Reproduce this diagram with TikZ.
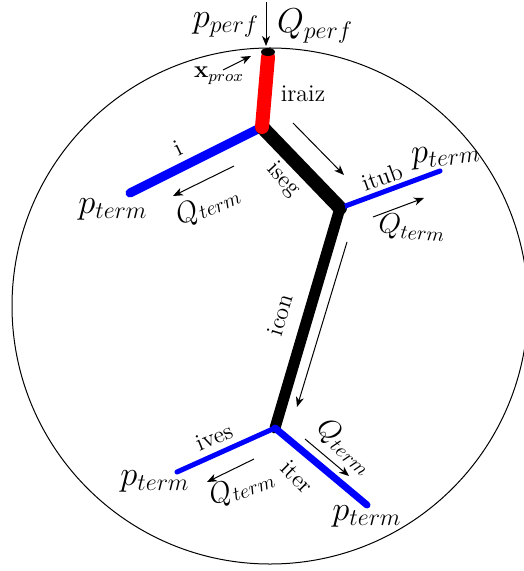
\documentclass[tikz,border=0pt]{standalone}
\usepackage{amsmath,amssymb}
\usepackage{tikz}
\usetikzlibrary{arrows.meta,positioning,calc}

\tikzset{
  seg/.style={line cap=round},
  flow/.style={-{Stealth[length=5pt,width=4pt,inset=1.5pt]}, line width=0.5pt},
  lbl/.style={font=\large, inner sep=1pt},
  big/.style={font=\Large, inner sep=1pt},
  huge/.style={font=\LARGE, inner sep=1pt}
}

\begin{document}
\begin{tikzpicture}[x=0.5pt,y=-0.5pt]
    \useasboundingbox (0,0) rectangle (523,571);
    % Domain
    \draw[line width=0.5pt] (270,306) circle (129pt);
    % Nodes of the tree
    \coordinate (top) at (268,52);
    \coordinate (root) at (262,127);
    \coordinate (iend) at (130,193);
    \coordinate (bif) at (340,208);
    \coordinate (tubend) at (440,171);
    \coordinate (conend) at (275,428);
    \coordinate (vesend) at (177,472);
    \coordinate (terend) at (367,505);
    % Segments
    \draw[seg, blue, line width=4.5pt] (root) -- (iend);
    \draw[seg, line width=7pt] (root) -- (bif);
    \draw[seg, blue, line width=2.5pt] (bif) -- (tubend);
    \draw[seg, line width=5.5pt] (bif) -- (conend);
    \draw[seg, blue, line width=2.5pt] (conend) -- (vesend);
    \draw[seg, blue, line width=3.5pt] (conend) -- (terend);
    \draw[seg, red, line width=7pt] ($(top)+(0,5)$) -- (root);
    \fill (top) ellipse (3.5pt and 2pt);

    % Inflow
    \coordinate (inA) at (266,2);
    \coordinate (inB) at (266,46);
    \draw[flow] (inA) -- (inB);
    \node[huge] (pperf) at (226,25) {$p_{perf}$};
    \node[huge] (qperf) at (315,26) {$Q_{perf}$};
    \coordinate (xA) at (223,70);
    \coordinate (xB) at (251,56);
    \draw[flow] (xA) -- (xB);
    \node[lbl] (xprox) at (219,76) {$\mathbf{x}_{prox}$};

    % Flow arrows
    \coordinate (sA) at (293,123);
    \coordinate (sB) at (344,175);
    \draw[flow] (sA) -- (sB);
    \coordinate (iA) at (234,166);
    \coordinate (iB) at (173,196);
    \draw[flow] (iA) -- (iB);
    \coordinate (tA) at (373,217);
    \coordinate (tB) at (424,198);
    \draw[flow] (tA) -- (tB);
    \coordinate (cA) at (347,242);
    \coordinate (cB) at (297,407);
    \draw[flow] (cA) -- (cB);
    \coordinate (vA) at (254,459);
    \coordinate (vB) at (207,482);
    \draw[flow] (vA) -- (vB);
    \coordinate (eA) at (305,439);
    \coordinate (eB) at (349,476);
    \draw[flow] (eA) -- (eB);

    % Segment names
    \node[lbl] (iraiz) at (303,94) {iraiz};
    \node[lbl, rotate=26] (inam) at (178,148) {i};
    \node[lbl, rotate=-47] (iseg) at (283,180) {iseg};
    \node[lbl, rotate=20] (itub) at (382,177) {itub};
    \node[lbl, rotate=73] (icon) at (280,315) {icon};
    \node[lbl, rotate=22] (ives) at (214,437) {ives};
    \node[lbl, rotate=-45] (iter) at (297,477) {iter};

    % Terminal values
    \node[huge] (p1) at (113,209) {$p_{term}$};
    \node[big, rotate=24] (q1) at (208,205) {$Q_{term}$};
    \node[huge, rotate=6] (p2) at (446,156) {$p_{term}$};
    \node[big, rotate=-4] (q2) at (412,228) {$Q_{term}$};
    \node[huge] (p3) at (155,481) {$p_{term}$};
    \node[big, rotate=20] (q3) at (242,487) {$Q_{term}$};
    \node[big, rotate=-42] (q4) at (345,447) {$Q_{term}$};
    \node[huge] (p4) at (367,516) {$p_{term}$};
\end{tikzpicture}
\end{document}
